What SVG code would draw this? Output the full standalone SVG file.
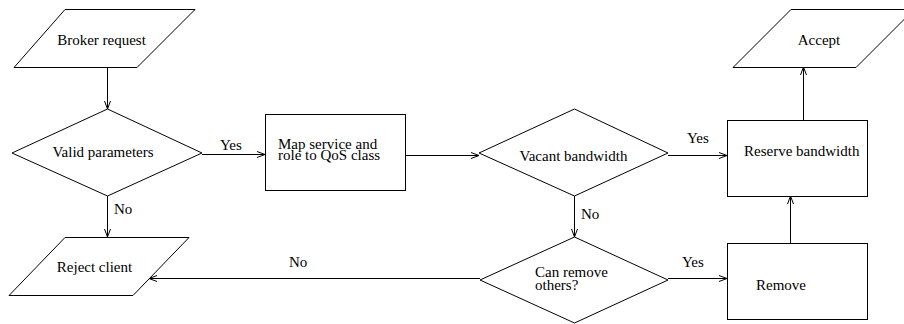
<svg xmlns="http://www.w3.org/2000/svg" width="904" height="324" viewBox="0 0 904 324" font-family="'Liberation Serif', 'Times New Roman', serif" font-size="15">
<defs>
<marker id="arr" markerWidth="10" markerHeight="8" refX="9" refY="4" orient="auto" markerUnits="userSpaceOnUse">
<path d="M1,1 L9,4 L1,7" fill="none" stroke="#000" stroke-width="1"/>
</marker>
<style>
.s{fill:#fff;stroke:#000;stroke-width:1}
.c{fill:none;stroke:#000;stroke-width:1;marker-end:url(#arr)}
.t{font-family:'Liberation Serif','Times New Roman',serif;font-size:15px;fill:#000}
.m{text-anchor:middle}
</style>
</defs>
<rect width="904" height="324" fill="#fff"/>
<g id="connectors">
<line class="c" x1="107.5" y1="67" x2="107.5" y2="109"/>
<line class="c" x1="202" y1="154.5" x2="265" y2="154.5"/>
<line class="c" x1="406" y1="155.5" x2="479" y2="155.5"/>
<line class="c" x1="668" y1="155.5" x2="727" y2="155.5"/>
<line class="c" x1="107.5" y1="196" x2="107.5" y2="237"/>
<line class="c" x1="574.5" y1="196" x2="574.5" y2="237"/>
<line class="c" x1="480" y1="278.5" x2="149" y2="278.5"/>
<line class="c" x1="668" y1="278.5" x2="727" y2="278.5"/>
<line class="c" x1="790.5" y1="243" x2="790.5" y2="196"/>
<line class="c" x1="803.5" y1="120" x2="803.5" y2="67"/>
<text class="t" x="220" y="150">Yes</text>
<text class="t" x="114" y="214">No</text>
<text class="t" x="687" y="143">Yes</text>
<text class="t" x="581" y="219">No</text>
<text class="t" x="289" y="267">No</text>
<text class="t" x="682" y="267">Yes</text>
</g>
<g id="broker">
<polygon class="s" points="65,9.5 195,9.5 137,67.5 14,67.5"/>
<text class="t m" x="101.5" y="45">Broker request</text>
</g>
<g id="valid">
<polygon class="s" points="107.5,109 202,153 107.5,196 12,153"/>
<text class="t m" x="103" y="157">Valid parameters</text>
</g>
<g id="map">
<rect class="s" x="265.5" y="114.5" width="140" height="76"/>
<text class="t" x="278" y="149">Map service and</text>
<text class="t" x="278" y="160">role to QoS class</text>
</g>
<g id="vacant">
<polygon class="s" points="574.5,109 668,153 574.5,196 479,153"/>
<text class="t m" x="573.5" y="161">Vacant bandwidth</text>
</g>
<g id="reserve">
<rect class="s" x="727.5" y="120.5" width="140" height="76"/>
<text class="t" x="744" y="156">Reserve bandwidth</text>
</g>
<g id="accept">
<polygon class="s" points="791,9.5 914,9.5 856,67.5 733,67.5"/>
<text class="t m" x="819" y="45">Accept</text>
</g>
<g id="reject">
<polygon class="s" points="65,237.5 189,237.5 133,295.5 9,295.5"/>
<text class="t m" x="94.5" y="272">Reject client</text>
</g>
<g id="canremove">
<polygon class="s" points="574.5,237 668,280 574.5,323 480,280"/>
<text class="t" x="535" y="277">Can remove</text>
<text class="t" x="535" y="290">others?</text>
</g>
<g id="remove">
<rect class="s" x="727.5" y="243.5" width="140" height="76"/>
<text class="t" x="756" y="290">Remove</text>
</g>
</svg>
